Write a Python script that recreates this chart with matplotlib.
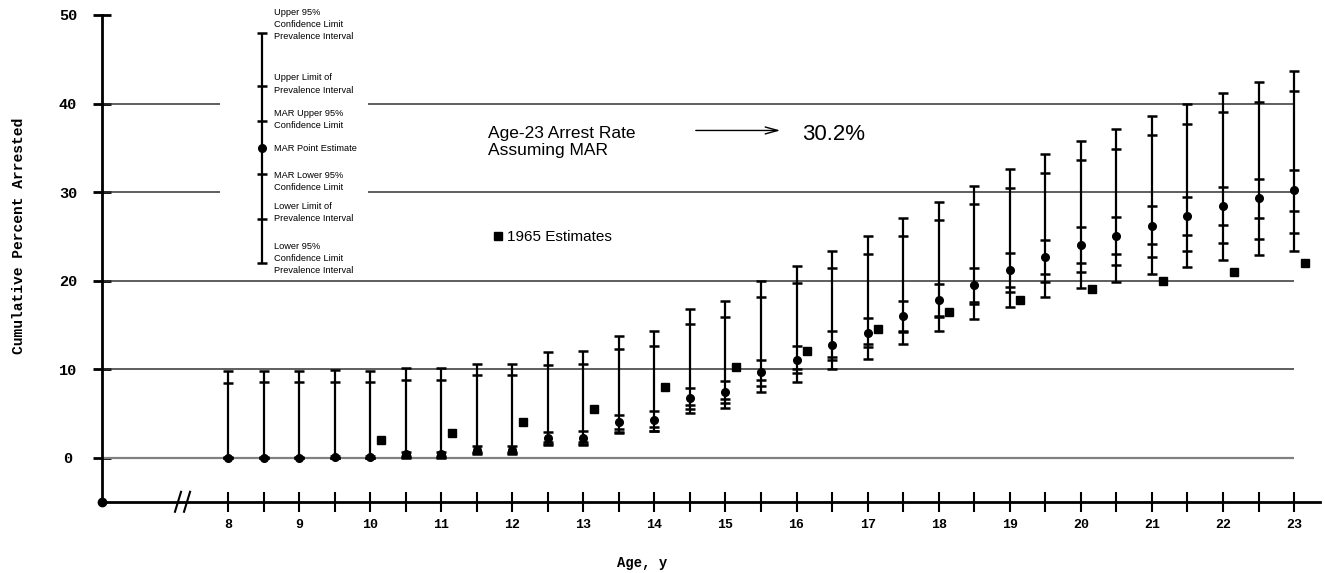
import numpy as np
import matplotlib
matplotlib.use('Agg')
import matplotlib.pyplot as plt

# 年龄(半岁间隔)
ages = np.arange(8, 23.01, 0.5)

# 患病率区间的95%置信上限 / 下限
upper_ci_prev = [9.75, 9.85, 9.85, 9.9, 9.85, 10.1, 10.1, 10.6, 10.6, 11.9, 12.1,
                 13.8, 14.3, 16.8, 17.7, 20.0, 21.6, 23.4, 25.0, 27.05, 28.9,
                 30.7, 32.6, 34.3, 35.8, 37.1, 38.6, 39.9, 41.2, 42.4, 43.7]
lower_ci_prev = [0, 0, 0, 0, 0, 0.0, 0.0, 0.4, 0.4, 1.4, 1.4,
                 2.75, 3.0, 5.05, 5.6, 7.4, 8.6, 10.0, 11.2, 12.8, 14.3,
                 15.65, 17.0, 18.1, 19.15, 19.9, 20.8, 21.5, 22.3, 22.9, 23.4]
# 患病率区间上限 / 下限
upper_prev = [8.4, 8.5, 8.5, 8.6, 8.6, 8.8, 8.8, 9.3, 9.3, 10.5, 10.6,
              12.3, 12.6, 15.05, 15.9, 18.1, 19.7, 21.4, 23.0, 25.05, 26.8,
              28.6, 30.5, 32.1, 33.6, 34.9, 36.4, 37.7, 39.0, 40.15, 41.4]
lower_prev = [0, 0, 0, 0, 0, 0.1, 0.1, 0.5, 0.5, 1.6, 1.6,
              2.9, 3.05, 5.5, 6.2, 8.1, 9.55, 11.06, 12.5, 14.2, 15.9,
              17.4, 18.7, 19.9, 21.0, 21.8, 22.65, 23.4, 24.3, 24.7, 25.4]
# MAR 点估计及95%置信区间
mar_upper = [0.1, 0.1, 0.1, 0.2, 0.2, 0.7, 0.7, 1.3, 1.3, 2.9, 3.0,
             4.85, 5.3, 7.9, 8.7, 11.06, 12.6, 14.3, 15.8, 17.75, 19.6,
             21.4, 23.1, 24.6, 26.1, 27.2, 28.4, 29.5, 30.6, 31.5, 32.5]
mar_point = [0.0, 0.0, 0.0, 0.1, 0.1, 0.4, 0.4, 0.9, 0.9, 2.2, 2.2,
             4.0, 4.3, 6.7, 7.45, 9.67, 11.06, 12.7, 14.1, 16.0, 17.8,
             19.5, 21.2, 22.65, 24.0, 25.05, 26.2, 27.3, 28.4, 29.3, 30.2]
mar_lower = [0, 0, 0, 0, 0, 0.2, 0.2, 0.6, 0.6, 1.8, 1.8,
             3.3, 3.5, 6.0, 6.65, 8.8, 10.0, 11.4, 12.8, 14.3, 16.0,
             17.6, 19.3, 20.7, 22.0, 23.0, 24.1, 25.2, 26.3, 27.1, 27.9]

# 1965年估计值
est_1965_ages = np.arange(10, 24)
est_1965_vals = [2.0, 2.8, 4.0, 5.5, 8.0, 10.3, 12.0, 14.5, 16.5, 17.8, 19.0, 20.0, 21.0, 22.0]
est_offset = 0.15

# 图例示意的数值
legend_x = 8.483
legend_caps = [22, 48]
legend_ticks = [27, 32, 38, 42]
legend_point = 35
legend_labels = [
    (48.9, "Upper 95%\nConfidence Limit\nPrevalence Interval"),
    (42.2, "Upper Limit of\nPrevalence Interval"),
    (38.2, "MAR Upper 95%\nConfidence Limit"),
    (34.95, "MAR Point Estimate"),
    (31.2, "MAR Lower 95%\nConfidence Limit"),
    (27.7, "Lower Limit of\nPrevalence Interval"),
    (22.5, "Lower 95%\nConfidence Limit\nPrevalence Interval"),
]

mono = 'Liberation Mono'
sans = 'Liberation Sans'
X0, X1 = 6.227, 23.365

fig = plt.figure(figsize=(13.25, 5.73), dpi=100)
ax = fig.add_axes([102 / 1325, 71 / 573, 1218 / 1325, 487 / 573])
ax.set_xlim(X0, X1)
ax.set_ylim(-5, 50)

# 网格线(30和40在图例处断开)
ax.hlines([10, 20], X0, 23, colors='#333333', lw=1.1)
ax.hlines([0], X0, 23, colors='#808080', lw=1.6)
ax.hlines([30, 40], X0, 7.887, colors='#333333', lw=1.1)
ax.hlines([30, 40], 9.97, 23, colors='#333333', lw=1.1)

# 误差线
kw = dict(ls='none', color='black', zorder=3)
ax.vlines(ages, lower_ci_prev, upper_ci_prev, colors='black', lw=1.6, zorder=3)
for arr in (upper_ci_prev, lower_ci_prev, upper_prev, lower_prev, mar_upper, mar_lower):
    ax.plot(ages, arr, marker='_', ms=7, mew=1.8, **kw)
ax.plot(ages, mar_point, marker='o', ms=5.5, **kw)

# 1965年估计
ax.plot(est_1965_ages + est_offset, est_1965_vals, marker='s', ms=6.3, **kw)

# 图例示意
ax.vlines(legend_x, legend_caps[0], legend_caps[1], colors='black', lw=1.6)
ax.plot([legend_x] * 2, legend_caps, marker='_', ms=7, mew=1.8, **kw)
ax.plot([legend_x] * 4, legend_ticks, marker='_', ms=7, mew=1.8, **kw)
ax.plot([legend_x], [legend_point], marker='o', ms=5.5, **kw)
for yv, txt in legend_labels:
    ax.text(8.647, yv, txt, fontsize=6.7, family=sans, va='center', ha='left',
            linespacing=1.45)

ax.plot([11.80], [24.99], marker='s', ms=6.3, **kw)
ax.text(11.93, 24.43, "1965 Estimates", fontsize=11, family=sans, va='baseline')

ax.text(11.66, 36.14, "Age-23 Arrest Rate", fontsize=12.5, family=sans, va='baseline')
ax.text(11.66, 34.2, "Assuming MAR", fontsize=12.5, family=sans, va='baseline')
ax.annotate('', xy=(15.81, 36.96), xytext=(14.543, 36.96),
            arrowprops=dict(arrowstyle='->,head_length=0.9,head_width=0.25', lw=1.0, color='black'))
ax.text(16.077, 35.87, "30.2%", fontsize=16, family=sans, va='baseline')

# 坐标轴
for s in ('top', 'right'):
    ax.spines[s].set_visible(False)
for s in ('left', 'bottom'):
    ax.spines[s].set_linewidth(2)
ax.set_yticks([0, 10, 20, 30, 40, 50])
ax.set_yticklabels(['0', '10', '20', '30', '40', '50'], family=mono, fontweight='bold', fontsize=11)
ax.tick_params(axis='y', direction='inout', length=13, width=2, pad=18)
for lab in ax.get_yticklabels():
    lab.set_horizontalalignment('center')
ax.set_xticks(ages)
ax.set_xticklabels([f'{a:.0f}' if a == int(a) else '' for a in ages],
                   family=mono, fontweight='bold', fontsize=9.5)
ax.tick_params(axis='x', direction='inout', length=14, width=1.5, pad=5)

# 原点及断轴标记
ax.plot([X0], [-5], marker='o', ms=6, color='black', clip_on=False, zorder=5)
for x0 in (7.254, 7.381):
    ax.plot([x0, x0 + 0.085], [-6.1, -3.85], color='black', lw=1.5, clip_on=False)

fig.text(19 / 1325, 1 - 236 / 573, 'Cumulative Percent Arrested', rotation=90,
         family=mono, fontweight='bold', fontsize=10.5, ha='center', va='center')
fig.text(642 / 1325, 1 - 563 / 573, 'Age, y', family=mono, fontweight='bold',
         fontsize=10, ha='center', va='center')

fig.savefig('out.png', dpi=100, facecolor='white')
